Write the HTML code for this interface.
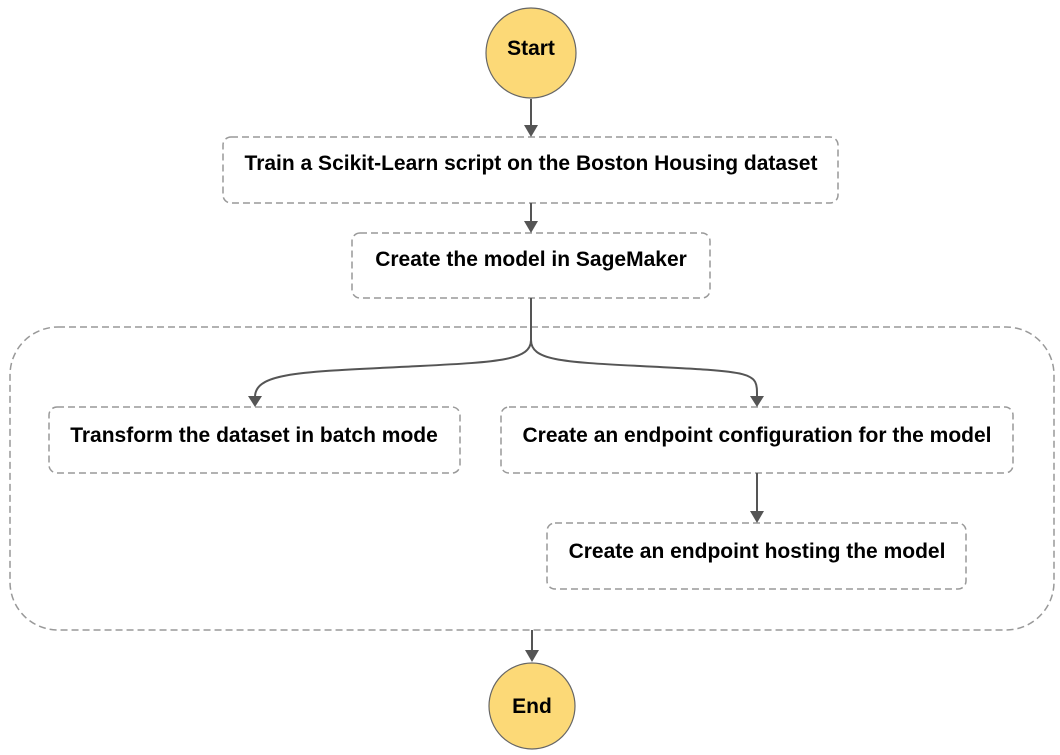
<!DOCTYPE html>
<html><head><meta charset="utf-8"><style>
body{margin:0;background:#fff;}
svg{display:block;}
text{font-family:"Liberation Sans",Arial,sans-serif;font-weight:bold;font-size:21px;fill:#000;text-anchor:middle;}
.b{fill:#fff;stroke:#999;stroke-width:1.5;stroke-dasharray:7,4;}
.l{stroke:#555;stroke-width:2;fill:none;}
.a{fill:#555;}
.c{fill:#fcd977;stroke:#666;stroke-width:1.2;}
</style></head><body>
<svg width="1060" height="755" viewBox="0 0 1060 755">
<rect class="b" x="10" y="327" width="1044" height="303" rx="48"/>
<circle class="c" cx="531" cy="53" r="45"/>
<text x="531" y="55">Start</text>
<rect class="b" x="223" y="137" width="615" height="66" rx="8"/>
<text x="531" y="170">Train a Scikit-Learn script on the Boston Housing dataset</text>
<rect class="b" x="352" y="233" width="358" height="65" rx="8"/>
<text x="531" y="266">Create the model in SageMaker</text>
<rect class="b" x="49" y="407" width="411" height="66" rx="8"/>
<text x="254" y="442">Transform the dataset in batch mode</text>
<rect class="b" x="501" y="407" width="512" height="66" rx="8"/>
<text x="757" y="442">Create an endpoint configuration for the model</text>
<rect class="b" x="547" y="523" width="419" height="66" rx="8"/>
<text x="757" y="558">Create an endpoint hosting the model</text>
<circle class="c" cx="532" cy="706" r="43"/>
<text x="532" y="713">End</text>
<path class="l" d="M531 99V127"/><path class="a" d="M524 125h14l-7 12z"/>
<path class="l" d="M531 203V223"/><path class="a" d="M524 221h14l-7 12z"/>
<path class="l" d="M531 298V340C531 360 500 362 420 366C300 372 254 372 255 398"/><path class="a" d="M248 396h14l-7 11z"/>
<path class="l" d="M531 340C531 360 560 362 640 366C760 372 757 372 757 398"/><path class="a" d="M750 396h14l-7 11z"/>
<path class="l" d="M757 473V513"/><path class="a" d="M750 511h14l-7 12z"/>
<path class="l" d="M532 630V652"/><path class="a" d="M525 650h14l-7 12z"/>
</svg>
</body></html>
